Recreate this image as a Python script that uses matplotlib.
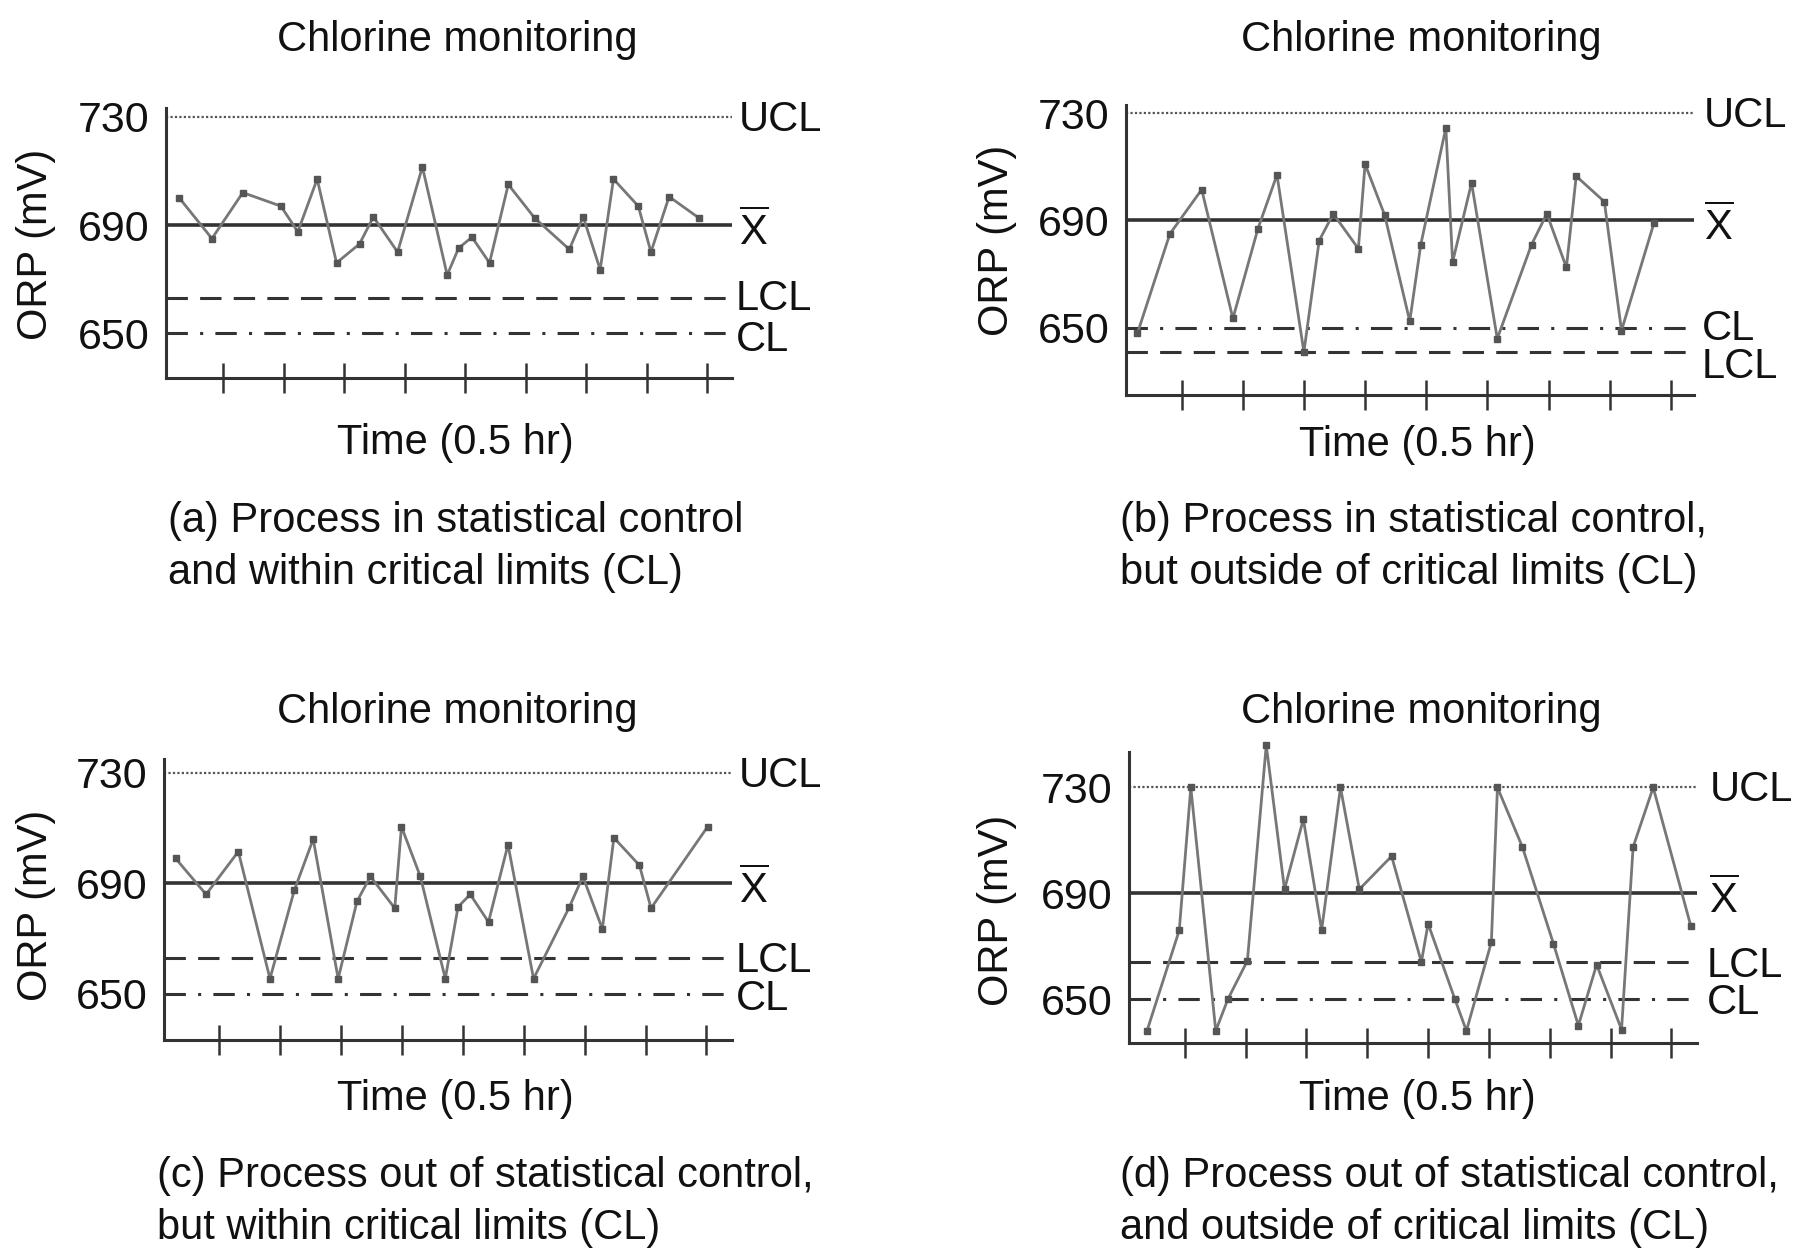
import matplotlib
matplotlib.use("Agg")
import matplotlib.pyplot as plt
import matplotlib.transforms as mtransforms

plt.rcParams['font.family'] = ['Liberation Sans', 'DejaVu Sans']
plt.rcParams['mathtext.fontset'] = 'custom'
plt.rcParams['mathtext.rm'] = 'Liberation Sans'

# ORP readings (mV) against time (0.5 hr ticks) for the four cases
a_t = [0.27, 0.81, 1.32, 1.95, 2.23, 2.55, 2.87, 3.25, 3.48, 3.88, 4.29, 4.70, 4.89,
       5.11, 5.40, 5.71, 6.15, 6.72, 6.95, 7.23, 7.45, 7.86, 8.07, 8.37, 8.87]
a_orp = [700, 685, 702, 697, 687.5, 707, 676, 683, 693, 680, 711.5, 671.5, 681.5,
         685.5, 676, 705, 692.5, 681, 693, 673.5, 707, 697, 680, 700.5, 692.5]

b_t = [0.28, 0.81, 1.33, 1.84, 2.25, 2.56, 3.00, 3.25, 3.48, 3.89, 4.00, 4.32, 4.73,
       4.91, 5.32, 5.43, 5.74, 6.16, 6.72, 6.97, 7.29, 7.45, 7.91, 8.19, 8.72]
b_orp = [648, 685, 701.5, 653.5, 687, 707, 641, 682.5, 692.5, 679.5, 711, 692, 652.5,
         681, 724.5, 674.5, 704, 646, 681, 692.5, 672.5, 706.5, 697, 649, 689]

c_t = [0.28, 0.78, 1.31, 1.83, 2.23, 2.54, 2.95, 3.26, 3.48, 3.88, 3.99, 4.30, 4.71,
       4.92, 5.12, 5.42, 5.74, 6.16, 6.75, 6.97, 7.29, 7.48, 7.90, 8.09, 9.02]
c_orp = [699, 686, 701.5, 655.5, 687.5, 706, 655.5, 683.5, 692.5, 681, 710.5, 692.5, 655.5,
         681.5, 686, 676, 704, 655.5, 681.5, 692.5, 673.5, 706.5, 696.5, 681, 710.5]

d_t = [0.38, 0.91, 1.10, 1.51, 1.71, 2.03, 2.34, 2.64, 2.95, 3.25, 3.56, 3.87, 4.40, 4.89,
       5.00, 5.44, 5.63, 6.04, 6.14, 6.55, 7.06, 7.47, 7.77, 8.18, 8.37, 8.70, 9.32]
d_orp = [638, 676, 730, 638, 650, 664.5, 746, 691.5, 718, 676, 730, 691.5, 704, 664,
         678.5, 650, 638, 671.5, 730, 707.5, 671, 640, 663, 638.5, 707.5, 730, 677.5]

ucl = 730
xbar = 690
cl = 650
lcl = [663, 641, 663, 664]

yticks = [650, 690, 730]
xticks = [1, 2, 3, 4, 5, 6, 7, 8, 9]

title = "Chlorine monitoring"
xlabel = "Time (0.5 hr)"
ylabel = "ORP (mV)"
captions = [
    ["(a) Process in statistical control", "and within critical limits (CL)"],
    ["(b) Process in statistical control,", "but outside of critical limits (CL)"],
    ["(c) Process out of statistical control,", "but within critical limits (CL)"],
    ["(d) Process out of statistical control,", "and outside of critical limits (CL)"],
]

# layout in pixels: axes box (left, right, top, bottom), xlim, ylim
W, H = 1796, 1249
boxes = [(166, 732, 108, 378), (1126, 1694, 105, 395),
         (164, 732, 759, 1040), (1129, 1697, 752, 1043)]
xlims = [(0.05, 9.41), (0.093, 9.375), (0.089, 9.42), (0.084, 9.42)]
ylims = [(633.4, 733.3), (625, 733), (633.3, 735), (633.4, 743.4)]
title_pos = [(457, 40), (1421, 40), (457, 712), (1421, 712)]
xlab_pos = [(455, 443), (1417, 445), (455, 1099), (1417, 1099)]
ylab_pos = [(36, 244), (997, 240), (36, 905), (997, 910)]
cap_pos = [(168, 521), (1120, 521), (157, 1176), (1120, 1176)]
lbl_x = [1.012, 1.018, 1.012, 1.022]
# small vertical nudges (mV) of the LCL / CL labels
lcl_nudge = [-0.5, -5.5, -1.0, -1.5]
cl_nudge = [-2.5, -0.5, -2.0, -1.5]

ink = '#111111'
line_col = '#333333'
data_col = '#777777'
fs = 30

fig = plt.figure(figsize=(W / 100, H / 100), dpi=100)

series = [(a_t, a_orp), (b_t, b_orp), (c_t, c_orp), (d_t, d_orp)]

for i, (t, orp) in enumerate(series):
    l, r, top, bot = boxes[i]
    ax = fig.add_axes([l / W, 1 - bot / H, (r - l) / W, (bot - top) / H])
    ax.set_xlim(*xlims[i])
    ax.set_ylim(*ylims[i])
    ax.patch.set_alpha(0)
    for s in ['top', 'right']:
        ax.spines[s].set_visible(False)
    for s in ['left', 'bottom']:
        ax.spines[s].set_color(line_col)
        ax.spines[s].set_linewidth(2.2)

    ax.set_xticks(xticks)
    ax.set_xticklabels([])
    ax.tick_params(axis='x', direction='inout', length=22, width=1.8, color=line_col)
    ax.set_yticks(yticks)
    ax.set_yticklabels([str(v) for v in yticks], fontsize=31, color=ink)
    ax.tick_params(axis='y', length=0, pad=12)

    # control lines
    ax.axhline(ucl, color='#555555', lw=1.6, ls=(0, (1, 1)))
    ax.axhline(xbar, color=line_col, lw=2.6, ls='-')
    ax.axhline(lcl[i], color=line_col, lw=2.2, ls=(0, (7, 4)))
    ax.axhline(cl, color=line_col, lw=2.2, ls=(0, (7, 4, 1, 4)))

    ax.plot(t, orp, color=data_col, lw=2.0, marker='s', ms=4.5,
            mfc='#555555', mec='#555555', clip_on=False, zorder=3)

    trans = mtransforms.blended_transform_factory(ax.transAxes, ax.transData)
    ax.text(lbl_x[i], ucl - 1, "UCL", transform=trans, fontsize=fs, color=ink,
            va='center', ha='left')
    ax.text(lbl_x[i], xbar - 2.5, r"$\overline{\mathrm{X}}$", transform=trans, fontsize=fs,
            color=ink, va='center', ha='left')
    ax.text(lbl_x[i] - 0.005, lcl[i] + lcl_nudge[i], "LCL", transform=trans, fontsize=fs,
            color=ink, va='center', ha='left')
    ax.text(lbl_x[i] - 0.005, cl + cl_nudge[i], "CL", transform=trans, fontsize=fs,
            color=ink, va='center', ha='left')

    x, y = title_pos[i]
    fig.text(x / W, 1 - y / H, title, fontsize=fs, color=ink, ha='center', va='center')
    x, y = xlab_pos[i]
    fig.text(x / W, 1 - y / H, xlabel, fontsize=fs, color=ink, ha='center', va='center')
    x, y = ylab_pos[i]
    fig.text(x / W, 1 - y / H, ylabel, fontsize=fs, color=ink, ha='center', va='center',
             rotation=90)
    x, y = cap_pos[i]
    fig.text(x / W, 1 - y / H, captions[i][0], fontsize=fs, color=ink, ha='left', va='center')
    fig.text(x / W, 1 - (y + 52) / H, captions[i][1], fontsize=fs, color=ink, ha='left',
             va='center')

fig.savefig("out.png", dpi=100, facecolor='white')
